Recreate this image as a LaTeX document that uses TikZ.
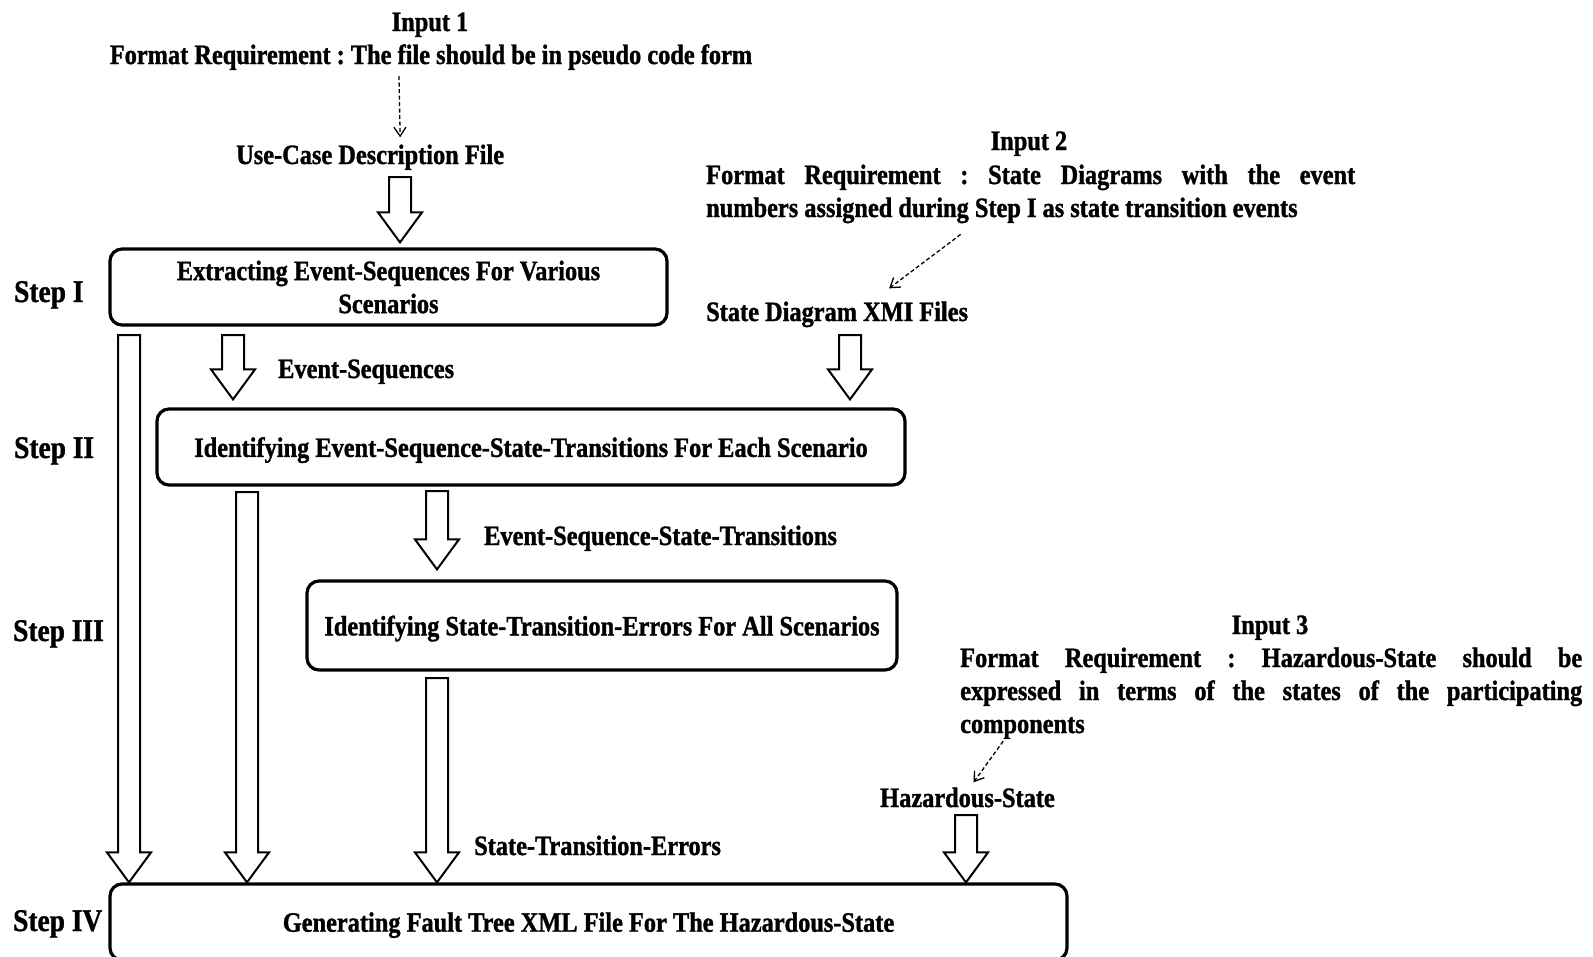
\documentclass[tikz,border=0pt]{standalone}
\usepackage{fontspec}
\setmainfont{Liberation Serif}[FakeStretch=0.87, BoldFeatures={FakeBold=1.2}]
\usetikzlibrary{calc,arrows.meta}
\frenchspacing

\tikzset{
  txt/.style={font=\bfseries\fontsize{28}{33}\selectfont, inner sep=0pt},
  lbl/.style={txt, anchor=base west},
  steplbl/.style={lbl, font=\bfseries\fontsize{31.5}{36}\selectfont},
  stepbox/.style={txt, draw, line width=3.2pt, rounded corners=12pt, align=center},
  fat/.style={draw, line width=2pt, fill=white, line join=miter},
  hint/.style={line width=1.3pt, dash pattern=on 4pt off 2.5pt,
    -{Straight Barb[length=9pt,width=12pt,line width=1.3pt]}},
  para/.style={txt, anchor=base west, align=justify}
}

% hollow block arrow from the point #1 down to the tip #2
\newcommand\fatarrow[2]{%
  \path[fat] let \p1=(#1), \p2=(#2) in
    (\x1-11pt,\y1) -- (\x1+11pt,\y1) -- (\x1+11pt,\y2+30pt) -- (\x1+22pt,\y2+30pt)
    -- (\x1,\y2) -- (\x1-22pt,\y2+30pt) -- (\x1-11pt,\y2+30pt) -- cycle;}

\begin{document}
\begin{tikzpicture}[x=1pt,y=-1pt]
\fill[white] (0,0) rectangle (1593,956);
\clip (0,0) rectangle (1593,956);

% ---- input 1 ----
\node[txt, anchor=base] (in1) at (430,31) {Input 1};
\node[txt, anchor=base] (in1req) at (431,64) {Format Requirement : The file should be in pseudo code form};
\node[lbl] (uc) at (236,164) {Use-Case Description File};
\draw[hint] ($(in1req.south)+(-32,6)$) -- ($(uc.north)+(30,-7)$);

% ---- input 2 ----
\node[txt, anchor=base] (in2) at (1029,150) {Input 2};
\node[para, text width=649pt] (in2req) at (706,184)
  {Format Requirement : State Diagrams with the event\linebreak
   numbers assigned during Step I as state transition events};
\node[lbl] (xmi) at (706,321) {State Diagram XMI Files};
\draw[hint] ($(in2req.south)+(-70,11)$) -- ($(xmi.north)+(52,-13)$);

% ---- input 3 ----
\node[txt, anchor=base] (in3) at (1270,634) {Input 3};
\node[para, text width=622pt] (in3req) at (960,667)
  {Format Requirement : Hazardous-State should be\linebreak
   expressed in terms of the states of the participating\linebreak
   components};
\node[lbl] (haz) at (880,807) {Hazardous-State};
\draw[hint] ($(in3req.south)+(-268,2)$) -- ($(haz.north)+(6,-5)$);

% ---- step labels ----
\node[steplbl] (st1) at (14,302) {Step I};
\node[steplbl] (st2) at (14,458) {Step II};
\node[steplbl] (st3) at (13,641) {Step III};
\node[steplbl] (st4) at (13,931) {Step IV};

% ---- process boxes ----
\node[stepbox, minimum width=557pt, minimum height=76pt] (s1) at (388.5,287)
  {Extracting Event-Sequences For Various\\Scenarios};
\node[stepbox, text depth=0pt, minimum width=748pt, minimum height=76pt] (s2) at (531,447)
  {Identifying Event-Sequence-State-Transitions For Each Scenario};
\node[stepbox, text depth=0pt, minimum width=590pt, minimum height=89pt] (s3) at (602,625.5)
  {Identifying State-Transition-Errors For All Scenarios};
\node[stepbox, text depth=0pt, minimum width=957pt, minimum height=76pt] (s4) at (588.5,922)
  {Generating Fault Tree XML File For The Hazardous-State};

% ---- data labels ----
\node[lbl] (evs) at (278,378) {Event-Sequences};
\node[lbl] (esst) at (484,545) {Event-Sequence-State-Transitions};
\node[lbl] (ste) at (474,855) {State-Transition-Errors};

% ---- block arrows ----
\coordinate (a1) at (400,177);
\coordinate (a2) at (850,335);
\coordinate (a3) at (233,335);
\coordinate (a4) at (129,335);
\coordinate (a5) at (247,492);
\coordinate (a6) at (437,491);
\coordinate (a7) at (437,678);
\coordinate (a8) at (966,815);
\fatarrow{a1}{$(a1 |- s1.north)+(0,-5)$}
\fatarrow{a2}{$(a2 |- s2.north)+(0,-8)$}
\fatarrow{a3}{$(a3 |- s2.north)+(0,-8)$}
\fatarrow{a4}{a4 |- s4.north}
\fatarrow{a5}{a5 |- s4.north}
\fatarrow{a6}{$(a6 |- s3.north)+(0,-10)$}
\fatarrow{a7}{a7 |- s4.north}
\fatarrow{a8}{a8 |- s4.north}
\end{tikzpicture}
\end{document}
